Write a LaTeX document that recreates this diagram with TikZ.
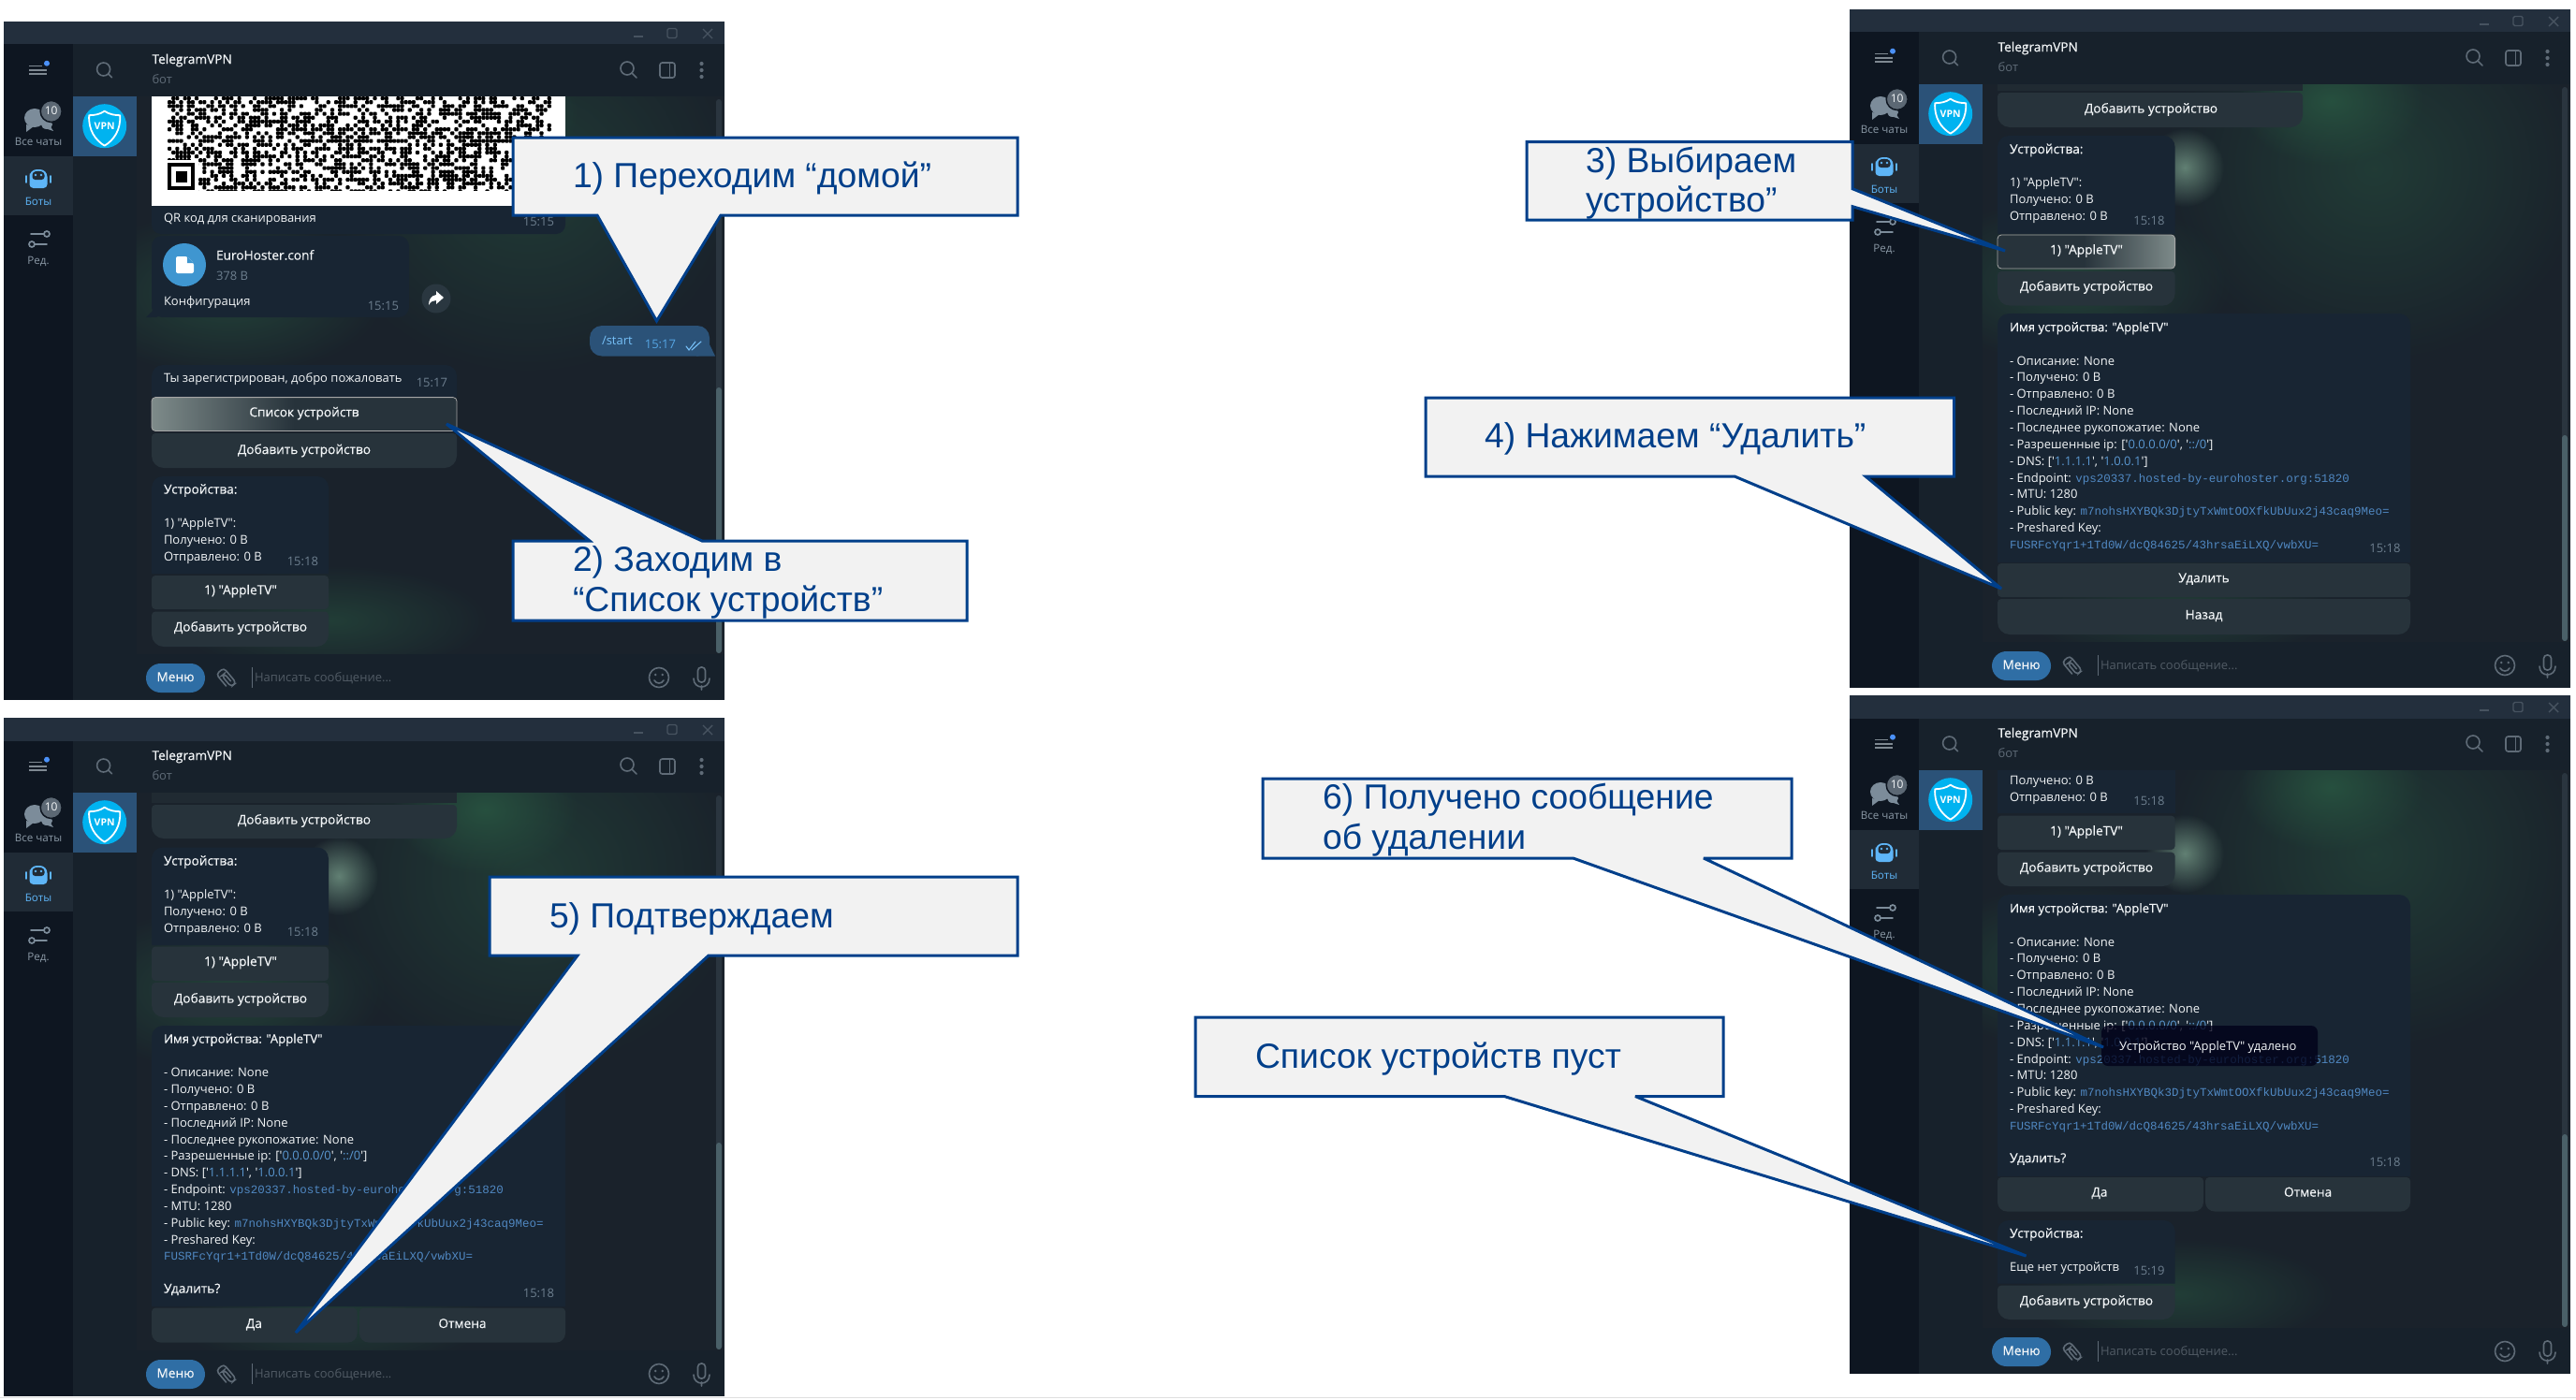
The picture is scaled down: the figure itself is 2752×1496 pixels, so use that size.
\documentclass[tikz,border=0pt]{standalone}
\usepackage{fontspec}
\setmainfont[Ligatures=TeXOff]{Open Sans}
\setmonofont[Ligatures=TeXOff]{Liberation Mono}
\newfontfamily\sbf[FakeBold=0.35,Ligatures=TeXOff]{Open Sans}
\newfontfamily\calf[Ligatures=TeXOff]{Liberation Sans}
\usetikzlibrary{fadings}
\tikzfading[name=softblob,inner color=transparent!0,outer color=transparent!100]
\definecolor{cTitle}{HTML}{232F3D}
\definecolor{cRail}{HTML}{0E1621}
\definecolor{cPanel}{HTML}{17212B}
\definecolor{cRailSel}{HTML}{202B36}
\definecolor{cChatSel}{HTML}{2B5278}
\definecolor{cWall}{HTML}{1A222B}
\definecolor{cBub}{HTML}{182533}
\definecolor{cBtn}{HTML}{27333B}
\definecolor{cHover}{HTML}{7E8B8A}
\definecolor{cOut}{HTML}{2B5278}
\definecolor{cGray}{HTML}{6D7F8F}
\definecolor{cIcon}{HTML}{5F6B77}
\definecolor{cTxt}{HTML}{F2F5F7}
\definecolor{cLink}{HTML}{5A97D0}
\definecolor{cMono}{HTML}{5088C2}
\definecolor{cBlue}{HTML}{5EB5F7}
\definecolor{cCallF}{HTML}{F2F2F2}
\definecolor{cCallL}{HTML}{003F8A}
\definecolor{HGreen}{HTML}{27503F}
\definecolor{HGreen2}{HTML}{6E9080}
\definecolor{HVpn}{HTML}{00B3F0}
\definecolor{HBadge}{HTML}{5C6874}
\definecolor{HBot}{HTML}{5F6B77}
\definecolor{HMenu}{HTML}{2F6EA5}
\definecolor{HTrack}{HTML}{2A353F}
\definecolor{HThumb}{HTML}{4A6068}
\definecolor{HFile}{HTML}{3F96D0}
\definecolor{HShare}{HTML}{2A3740}
\tikzset{
  txt/.style={inner sep=0pt,outer sep=0pt,text=cTxt,font=\fontsize{13}{16}\selectfont},
  sb/.style={font=\fontsize{13.7}{16}\sbf},
  dim/.style={text=cGray},
  rail/.style={font=\fontsize{11.6}{14}\selectfont,text=cGray!80!white},
  callout/.style={draw=cCallL,fill=cCallF,line width=3pt,line join=miter,miter limit=3},
  calltext/.style={inner sep=0pt,outer sep=0pt,text=cCallL,font=\fontsize{37.3}{43}\calf},
  ico/.style={draw=cIcon,line width=1.6pt,fill=none,line cap=round},
  blob/.style={path fading=softblob},
}
\newcounter{tn}
\newcommand\tx[4][]{\stepcounter{tn}\node[txt,anchor=base west,#1] (t\thetn) at (#2,{#3+3.6}) {#4};}
\newcommand\tc[4][]{\stepcounter{tn}\node[txt,anchor=base,#1] (t\thetn) at (#2,{#3+3.6}) {#4};}
\newcommand\tr[4][]{\stepcounter{tn}\node[txt,anchor=base east,#1] (t\thetn) at (#2,{#3+3.6}) {#4};}
\newcommand\tm[3]{\tr[dim]{#1}{#2}{#3}}
% button: x1,y1,x2,y2, bottom radius
\newcommand\btn[5]{\fill[cBtn] (#1,{(#2+#4)/2}) [rounded corners=4pt] -- (#1,#2) -- (#3,#2) -- ++(0,10) [rounded corners=#5pt] -- (#3,#4) -- (#1,#4) [sharp corners] -- cycle;}
\newcommand\wall{%
  \fill[cWall] (141.5,80) rectangle (770,676);
  \begin{scope}
    \clip (141.5,80) rectangle (770,676);
    \fill[blob,color=HGreen,opacity=.55] (560,170) ellipse (230 and 210);
    \fill[blob,color=HGreen] (514,98) ellipse (100 and 70);
    \fill[blob,color=HGreen2,opacity=.85] (358,169) circle (42);
    \fill[blob,color=HGreen,opacity=.6] (350,640) ellipse (170 and 60);
    \fill[blob,color=HGreen,opacity=.7] (240,290) ellipse (170 and 90);
  \end{scope}
}
% thumb start
\newcommand\chrome[1]{%
  \fill[cRail] (0,24.5) rectangle (74,725);
  \fill[cPanel] (74,24.5) rectangle (141.5,725);
  \fill[cTitle] (0,0) rectangle (770,24.5);
  \fill[cPanel] (141.5,24.5) rectangle (770,80);
  \wall
  \fill[cPanel] (141.5,676) rectangle (770,725);
  % window controls
  \draw[draw=cIcon!60!cTitle,line width=1.4pt] (673,16) -- (683,16);
  \draw[draw=cIcon!60!cTitle,line width=1.4pt,rounded corners=1.5pt] (709,7.5) rectangle (719,17.5);
  \draw[draw=cIcon!60!cTitle,line width=1.4pt] (747,8) -- (757,18) (757,8) -- (747,18);
  % hamburger
  \draw[draw=cIcon!80!white,line width=1.7pt] (27,47.5) -- (41,47.5) (27,51.8) -- (46,51.8) (27,56) -- (46,56);
  \fill[cBlue!80!blue] (46,44.7) circle (3);
  \draw[ico] (106.6,51) circle (7) (111.7,56) -- (115.5,59.8);
  % selected chat
  \fill[cChatSel] (74,80) rectangle (141.5,144);
  \fill[HVpn] (107.7,111.7) circle (23.5);
  \begin{scope}[shift={(107.7,111.7)}]
    \draw[white,line width=1.8pt,line join=round] (0,-16) .. controls (5,-12.5) and (11,-11.5) .. (16.5,-11.5) .. controls (17.5,4) and (10,15) .. (0,21) .. controls (-10,15) and (-17.5,4) .. (-16.5,-11.5) .. controls (-11,-11.5) and (-5,-12.5) .. (0,-16) -- cycle;
    \stepcounter{tn}\node[inner sep=0pt,text=white,font=\fontsize{10.5}{12}\bfseries] (t\thetn) at (0,0) {VPN};
  \end{scope}
  % chats icon
  \fill[cGray!90!white] (33,103) ellipse (11 and 10);
  \fill[cGray!90!white] (24,110) -- (24,118) -- (32,112) -- cycle;
  \fill[cGray!90!white] (46,110) ellipse (6 and 5);
  \fill[cGray!90!white] (44,114) -- (53,117) -- (47,108) -- cycle;
  \fill[HBadge,draw=cRail,line width=1.5pt] (50.7,96) circle (11.5);
  \tc[font=\fontsize{12}{14}\selectfont]{50.7}{96.2}{10}
  \tc[rail]{37}{129}{Все чаты}
  % bots
  \fill[cRailSel] (0,144) rectangle (74,207);
  \fill[cBlue] (27.5,178) [rounded corners=4pt] -- (27.5,166) [rounded corners=8pt] -- (27.5,158) -- (46.5,158) [rounded corners=4pt] -- (46.5,178) -- cycle;
  \fill[cRailSel] (30.5,161) [rounded corners=3pt] -- (30.5,169) -- (43.5,169) -- (43.5,161) -- (37,159.5) -- cycle;
  \fill[cBlue] (34,164) circle (1.4) (40,164) circle (1.4);
  \draw[cBlue,line width=1.8pt,line cap=round] (24,165) -- (24,172) (50,165) -- (50,172);
  \tc[rail,text=cBlue]{37}{193}{Боты}
  % settings
  \draw[draw=cGray!90!white,line width=1.7pt,line cap=round] (29,227) -- (43,227) (46,227) circle (3) (33,238) -- (46,238) (30,238) circle (3);
  \tc[rail]{37}{256}{Ред.}
  % header
  \tx[font=\fontsize{13.7}{16}\sbf]{158.5}{41.5}{TelegramVPN}
  \tx[text=HBot]{158.5}{63}{бот}
  \draw[ico] (666,50) circle (7) (671.3,55.3) -- (676,60);
  \draw[ico,rounded corners=2.5pt] (701,44) rectangle (717,60);
  \draw[ico] (711.5,44) -- (711.5,60);
  \fill[cIcon] (745.5,45) circle (2.1) (745.5,52) circle (2.1) (745.5,59) circle (2.1);
  % input
  \fill[HMenu,rounded corners=15.5pt] (152,686) rectangle (215,717);
  \tc[font=\fontsize{13.7}{16}\sbf]{183.5}{701.5}{Меню}
  \begin{scope}[shift={(238,702)},rotate=40]
    \draw[ico,rounded corners=3.6pt] (-5.5,6) -- (-5.5,-10.5) -- (5,-10.5) -- (5,10) -- (-2,10) -- (-2,-5.5) -- (1.6,-5.5) -- (1.6,5);
  \end{scope}
  \draw[cIcon,line width=1pt] (265,690) -- (265,712);
  \tx[text=cIcon!85!black]{268}{701.5}{Написать сообщение...}
  \draw[ico] (700,701) circle (10.5);
  \fill[cIcon] (696.3,698) circle (1.4) (703.7,698) circle (1.4);
  \draw[ico] (695,704) .. controls (697,708) and (703,708) .. (705,704);
  \draw[ico,rounded corners=3.6pt] (741.5,690) rectangle (749.5,706);
  \draw[ico] (737,702) .. controls (737,714) and (754,714) .. (754,702) (745.5,710) -- (745.5,714);
  % scrollbar
  \fill[HTrack,rounded corners=3pt] (761,83) rectangle (767,675);
  \fill[HThumb,rounded corners=3pt] (761,#1) rectangle (767,675);
}
\newcommand\devlines[4]{% y title, y apple, y poluch, y otpr
  \tx[sb]{171}{#1}{Устройства:}
  \tx{171}{#2}{1) "AppleTV":}
  \tx{171}{#3}{Получено: 0 B}
  \tx{171}{#4}{Отправлено: 0 B}
}
\newcommand\infolist[1]{% #1 = y of first bullet
  \tx[sb,font=\fontsize{13.2}{16}\sbf]{171}{#1-35.9}{Имя устройства: "AppleTV"}
  \tx{171}{#1}{- Описание: None}
  \tx{171}{#1+17.85}{- Получено: 0 B}
  \tx{171}{#1+35.7}{- Отправлено: 0 B}
  \tx{171}{#1+53.55}{- Последний IP: None}
  \tx{171}{#1+71.4}{- Последнее рукопожатие: None}
  \tx{171}{#1+89.25}{- Разрешенные ip: ['\textcolor{cLink}{0.0.0.0/0}', '\textcolor{cLink}{::/0}']}
  \tx{171}{#1+107.1}{- DNS: ['\textcolor{cLink}{1.1.1.1}', '\textcolor{cLink}{1.0.0.1}']}
  \tx{171}{#1+124.95}{- Endpoint: \textcolor{cMono}{\fontsize{12.5}{16}\ttfamily vps20337.hosted-by-eurohoster.org:51820}}
  \tx{171}{#1+142.8}{- MTU: 1280}
  \tx{171}{#1+160.65}{- Public key: \textcolor{cMono}{\fontsize{12.5}{16}\ttfamily m7nohsHXYBQk3DjtyTxWmtOOXfkUbUux2j43caq9Meo=}}
  \tx{171}{#1+178.5}{- Preshared Key:}
  \tx{171}{#1+196.35}{\textcolor{cMono}{\fontsize{12.5}{16}\ttfamily FUSRFcYqr1+1Td0W/dcQ84625/43hrsaEiLXQ/vwbXU=}}
}
\begin{document}
\begin{tikzpicture}[x=1pt,y=-1pt]
\useasboundingbox (0,0) rectangle (2752,1496);
\fill[white] (0,0) rectangle (2752,1496);
\draw[gray!25,line width=1pt] (0,1493) -- (2752,1493);

% ===== Window 1
\begin{scope}[shift={(4,23)}]
  \chrome{391}
  \fill[white] (158,80) rectangle (600,197);
  \begin{scope}
    \clip (158,80) rectangle (600,197);
    \pgfmathsetseed{4242}
    \foreach \i in {0,...,98} {
      \foreach \j in {0,...,24} {
        \pgfmathrandominteger{\rr}{0}{99}
        \ifnum\rr<50
          \fill[black,rounded corners=1pt] ({175+\i*4.14},{80+\j*4.14}) rectangle +(4.14,4.14);
        \fi
      }
    }
    \fill[white] (175,148) rectangle (208,183);
    \fill[black] (175,151) rectangle (204,180);
    \fill[white] (179,155) rectangle (200,176);
    \fill[black] (183.5,159.5) rectangle (195.5,171.5);
    \fill[white] (158,181) rectangle (600,197);
  \end{scope}
  \fill[cBub] (158,197) [sharp corners] -- (600,197) [rounded corners=10pt] -- (600,227) -- (158,227) [sharp corners] -- cycle;
  \tx{171}{210.6}{QR код для сканирования}
  \tm{588}{215}{15:15}
  \fill[cBub,rounded corners=11pt] (158,229) rectangle (433,316);
  \fill[cBub] (152,316) -- (164,316) -- (164,304) -- cycle;
  \fill[HFile] (193,260) circle (23);
  \fill[white,rounded corners=2pt] (184,251) -- (196,251) -- (203,258) -- (203,269) -- (184,269) -- cycle;
  \fill[HFile] (196,251) -- (196,258) -- (203,258) -- cycle;
  \tx[font=\fontsize{13.7}{16}\sbf]{227}{251}{EuroHoster.conf}
  \tx[dim]{227}{273}{378 B}
  \tx{171}{300}{Конфигурация}
  \tm{422}{305}{15:15}
  \fill[HShare] (462,296) circle (15.5);
  \fill[white] (470,295) -- (462,288) -- (462,292) .. controls (456,293) and (454,298) .. (454,303) .. controls (456,299) and (459,298) .. (462,298) -- (462,302) -- cycle;
  % /start
  \fill[cOut,rounded corners=13pt] (626,325) rectangle (754,357.5);
  \fill[cOut] (740,340) -- (754,345) -- (760,357.5) -- (740,357.5) -- cycle;
  \tx[text=cBlue!85!white]{639}{341.5}{/start}
  \tr[text=cBlue!85!cOut]{718}{346}{15:17}
  \draw[cBlue!85!white,line width=1.1pt,line cap=round] (729,347) -- (732,351) -- (739,342) (735,351) -- (745,342);
  % welcome
  \fill[cBub] (158,401) [rounded corners=12pt] -- (158,367) -- (484,367) [sharp corners] -- (484,401) -- cycle;
  \tx{171}{382}{Ты зарегистрирован, добро пожаловать}
  \tm{474}{387}{15:17}
  % hover button
  \begin{scope}
    \clip[rounded corners=4pt] (158,401.6) rectangle (484,437.5);
    \fill[cBtn] (158,401) rectangle (484,438);
    \shade[left color=cHover,right color=cBtn] (158,401) rectangle (310,438);
  \end{scope}
  \draw[gray!70!white,line width=.8pt,rounded corners=4pt] (158,401.6) rectangle (484,437.5);
  \tc[sb]{321}{418.6}{Список устройств}
  \btn{158}{440}{484}{477}{13}
  \tc[sb]{321}{458.5}{Добавить устройство}
  % devices
  \fill[cBub] (158,590) [rounded corners=12pt] -- (158,486) -- (347,486) [sharp corners] -- (347,590) -- cycle;
  \devlines{501}{537}{555}{573}
  \tm{336}{577.6}{15:18}
  \btn{158}{592}{347}{628}{4}
  \tc[sb]{253}{608.6}{1) "AppleTV"}
  \btn{158}{630.5}{347}{668}{13}
  \tc[sb]{253}{648}{Добавить устройство}
\end{scope}

% ===== Window 2
\begin{scope}[shift={(1976,10)}]
  \chrome{455}
  \fill[cBtn!45!cWall] (158,80) rectangle (484,87);
  \btn{158}{89}{484}{126}{13}
  \tc[sb]{322}{107}{Добавить устройство}
  \fill[cBub] (158,240) [rounded corners=12pt] -- (158,135) -- (347.6,135) [sharp corners] -- (347.6,240) -- cycle;
  \devlines{150.5}{186}{204}{222}
  \tm{336.5}{227}{15:18}
  \begin{scope}
    \clip[rounded corners=4pt] (158,241) rectangle (347.6,277);
    \fill[cBtn] (158,241) rectangle (347.6,277);
    \shade[left color=cBtn,right color=cHover] (250,241) rectangle (347.6,277);
  \end{scope}
  \draw[gray!70!white,line width=.8pt,rounded corners=4pt] (158,241) rectangle (347.6,277);
  \tc[sb]{253}{258}{1) "AppleTV"}
  \btn{158}{280}{347.6}{316.6}{13}
  \tc[sb]{253}{297}{Добавить устройство}
  \fill[cBub] (158,591) [rounded corners=12pt] -- (158,325) -- (599,325) [sharp corners] -- (599,591) -- cycle;
  \infolist{376.5}
  \tm{588.5}{577}{15:18}
  \btn{158}{592}{599}{628}{4}
  \tc[sb]{378.5}{608.7}{Удалить}
  \btn{158}{630}{599}{668}{13}
  \tc[sb]{378.5}{648}{Назад}
\end{scope}

% ===== Window 3
\begin{scope}[shift={(4,767)}]
  \chrome{454}
  \fill[cBtn!45!cWall] (158,80) rectangle (484,91);
  \btn{158}{93}{484}{129}{13}
  \tc[sb]{321}{110}{Добавить устройство}
  \fill[cBub] (158,243) [rounded corners=12pt] -- (158,138.5) -- (347,138.5) [sharp corners] -- (347,243) -- cycle;
  \devlines{154}{190}{207.6}{225.4}
  \tm{336}{230}{15:18}
  \btn{158}{244.6}{347}{281}{4}
  \tc[sb]{253}{261.5}{1) "AppleTV"}
  \btn{158}{283}{347}{320}{13}
  \tc[sb]{253}{301}{Добавить устройство}
  \fill[cBub] (158,629) [rounded corners=12pt] -- (158,329) -- (600,329) [sharp corners] -- (600,629) -- cycle;
  \infolist{380}
  \tx[sb]{171}{611}{Удалить?}
  \tm{588}{616}{15:18}
  \btn{158}{630.6}{377.6}{667.6}{10}
  \tc[sb]{267.4}{648.4}{Да}
  \btn{380}{630.6}{600}{667.6}{10}
  \tc[sb]{490}{648.4}{Отмена}
\end{scope}

% ===== Window 4
\begin{scope}[shift={(1976,743)}]
  \chrome{469}
  \fill[cBub] (158,80) -- (347.6,80) -- (347.6,126) -- (158,126) -- cycle;
  \tx{171}{92}{Получено: 0 B}
  \tx{171}{110}{Отправлено: 0 B}
  \tm{336.5}{114}{15:18}
  \btn{158}{128.6}{347.6}{165}{4}
  \tc[sb]{253}{146}{1) "AppleTV"}
  \btn{158}{167.7}{347.6}{204}{13}
  \tc[sb]{253}{185}{Добавить устройство}
  \fill[cBub] (158,514) [rounded corners=12pt] -- (158,213) -- (599,213) [sharp corners] -- (599,514) -- cycle;
  \infolist{264.5}
  \tx[sb]{171}{495.6}{Удалить?}
  \tm{588.5}{500}{15:18}
  \btn{158}{515}{378}{551.5}{10}
  \tc[sb]{267}{532}{Да}
  \btn{380}{515}{599}{551.5}{10}
  \tc[sb]{489.6}{532}{Отмена}
  \fill[cBub] (158,628.6) [rounded corners=12pt] -- (158,561) -- (347.6,561) [sharp corners] -- (347.6,628.6) -- cycle;
  \tx[sb]{171}{576}{Устройства:}
  \tx{171}{612}{Еще нет устройств}
  \tm{336.5}{616}{15:19}
  \btn{158}{630.6}{347.6}{667}{13}
  \tc[sb]{253}{648}{Добавить устройство}
  % toast
  \fill[black!90!blue,opacity=.78,rounded corners=7pt] (269,353) rectangle (500,396);
  \tx{288}{375.5}{Устройство "AppleTV" удалено}
\end{scope}

% ===== Callouts
\coordinate (tip1) at (701.5,343);
\coordinate (tip2) at (477,453);
\coordinate (tip3) at (2142,268);
\coordinate (tip4) at (2138,629);
\coordinate (tip5) at (316,1424);
\coordinate (tip6) at (2247,1119);
\coordinate (tip7) at (2164.5,1342);
\draw[callout] (548,147) -- (1087,147) -- (1087,230) -- (770,230) -- (tip1) -- (638,230) -- (548,230) -- cycle;
\node[calltext,anchor=base west] (call1) at (612,200.5) {1) Переходим “домой”};
\draw[callout] (548,578) -- (630,578) -- (tip2) -- (750,578) -- (1033,578) -- (1033,663) -- (548,663) -- cycle;
\node[calltext,anchor=base west] (call2a) at (612,610.5) {2) Заходим в};
\node[calltext,anchor=base west] (call2b) at (612,653.5) {“Список устройств”};
\draw[callout] (1631,151.5) -- (1979,151.5) -- (1979,201.7) -- (tip3) -- (1979,220.7) -- (1979,235) -- (1631,235) -- cycle;
\node[calltext,anchor=base west] (call3a) at (1694,184.5) {3) Выбираем};
\node[calltext,anchor=base west] (call3b) at (1694,226.5) {устройство”};
\draw[callout] (1523,425) -- (2087.5,425) -- (2087.5,509) -- (1993,509) -- (tip4) -- (1853,509) -- (1523,509) -- cycle;
\node[calltext,anchor=base west] (call4) at (1586,478.5) {4) Нажимаем “Удалить”};
\draw[callout] (523,937) -- (1087,937) -- (1087,1021) -- (757,1021) -- (tip5) -- (617,1021) -- (523,1021) -- cycle;
\node[calltext,anchor=base west] (call5) at (587,991.5) {5) Подтверждаем};
\draw[callout] (1349,832) -- (1914,832) -- (1914,917) -- (1820,917) -- (tip6) -- (1680.5,917) -- (1349,917) -- cycle;
\node[calltext,anchor=base west] (call6a) at (1413,864.5) {6) Получено сообщение};
\node[calltext,anchor=base west] (call6b) at (1413,907.5) {об удалении};
\draw[callout] (1277,1087) -- (1841,1087) -- (1841,1171.5) -- (1747,1171.5) -- (tip7) -- (1607,1171.5) -- (1277,1171.5) -- cycle;
\node[calltext,anchor=base west] (call7) at (1341,1141.5) {Список устройств пуст};
\end{tikzpicture}
\end{document}
